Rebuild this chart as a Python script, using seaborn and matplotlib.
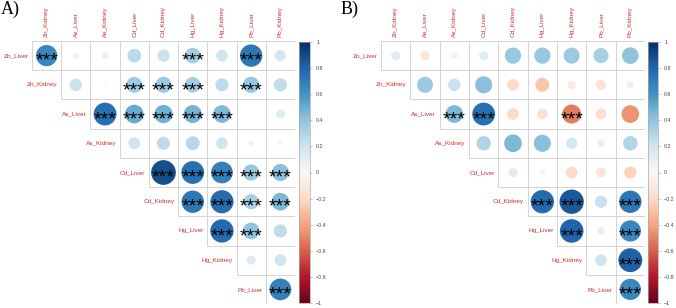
import numpy as np
import pandas as pd
import matplotlib
matplotlib.use("Agg")
import matplotlib.pyplot as plt
import seaborn as sns
from matplotlib.patches import Rectangle

# variable names (rows / columns of the upper triangle, diagonal dropped)
row_names = ["Zn_Liver", "Zn_Kidney", "As_Liver", "As_Kidney", "Cd_Liver",
             "Cd_Kidney", "Hg_Liver", "Hg_Kidney", "Pb_Liver"]
col_names = ["Zn_Kidney", "As_Liver", "As_Kidney", "Cd_Liver", "Cd_Kidney",
             "Hg_Liver", "Hg_Kidney", "Pb_Liver", "Pb_Kidney"]

# panel A: correlations, row by row (upper triangle)
corr_a = [
    [0.65, -0.05, -0.07, 0.27, 0.22, 0.35, 0.20, 0.72, 0.18],
    [0.22, 0.01, 0.36, 0.37, 0.35, 0.25, 0.38, 0.25],
    [0.75, 0.50, 0.48, 0.47, 0.45, 0.00, 0.12],
    [0.20, 0.25, 0.28, 0.20, -0.05, 0.03],
    [0.88, 0.75, 0.68, 0.38, 0.42],
    [0.72, 0.77, 0.33, 0.45],
    [0.78, 0.40, 0.25],
    [0.12, 0.20],
    [0.68],
]
sig_a = [
    [1, 0, 0, 0, 0, 1, 0, 1, 0],
    [0, 0, 1, 1, 1, 0, 1, 0],
    [1, 1, 1, 1, 1, 0, 0],
    [0, 0, 0, 0, 0, 0],
    [1, 1, 1, 1, 1],
    [1, 1, 1, 1],
    [1, 1, 0],
    [0, 0],
    [1],
]

# panel B
corr_b = [
    [0.12, -0.12, -0.06, 0.12, 0.38, 0.38, 0.37, 0.33, 0.40],
    [0.37, 0.22, 0.42, -0.20, -0.28, -0.10, -0.15, -0.07],
    [0.45, 0.75, -0.20, -0.16, -0.52, -0.17, -0.45],
    [0.30, 0.45, 0.42, 0.18, -0.08, 0.30],
    [0.12, -0.04, -0.20, -0.14, -0.22],
    [0.78, 0.85, 0.22, 0.72],
    [0.80, 0.08, 0.65],
    [0.20, 0.82],
    [0.65],
]
sig_b = [
    [0, 0, 0, 0, 0, 0, 0, 0, 0],
    [0, 0, 0, 0, 0, 0, 0, 0],
    [1, 1, 0, 0, 1, 0, 0],
    [0, 0, 0, 0, 0, 0],
    [0, 0, 0, 0, 0],
    [1, 1, 0, 1],
    [1, 0, 1],
    [0, 1],
    [1],
]

cbar_ticks = [-1, -0.8, -0.6, -0.4, -0.2, 0, 0.2, 0.4, 0.6, 0.8, 1]

label_col = "#c8302f"
plt.rcParams["font.family"] = ["Liberation Sans", "DejaVu Sans"]

fig = plt.figure(figsize=(6.76, 3.08), dpi=100)
cmap = plt.get_cmap("RdBu")


def to_long(corr, sig):
    recs = []
    for i, row in enumerate(corr):
        for k, v in enumerate(row):
            j = i + k
            recs.append({"row": i, "col": j, "r": v, "absr": abs(v), "sig": sig[i][k]})
    return pd.DataFrame(recs)


def draw_panel(ax, cax, corr, sig, tag, tag_x):
    df = to_long(corr, sig)
    n = len(row_names)
    # cell grid
    for i in range(n):
        for j in range(i, n):
            ax.add_patch(Rectangle((j - 0.5, i - 0.5), 1, 1, fill=False,
                                   edgecolor="#d4d4d4", lw=0.7, zorder=1))
    sns.scatterplot(data=df, x="col", y="row", hue="r", size="absr",
                    palette="RdBu", hue_norm=(-1, 1),
                    sizes=(0, 360), size_norm=(0, 1),
                    linewidth=0, legend=False, ax=ax, zorder=2)
    for _, s in df[df["sig"] == 1].iterrows():
        ax.text(s["col"], s["row"] + 0.35, "***", ha="center", va="baseline",
                fontsize=14, color="black", zorder=3)
    ax.set_xlim(-0.5, n - 0.5)
    ax.set_ylim(n - 0.5, -0.5)
    ax.axis("off")
    for i, name in enumerate(row_names):
        ax.text(i - 0.62, i, name, ha="right", va="center", fontsize=4.6,
                color=label_col)
    for j, name in enumerate(col_names):
        ax.text(j, -0.62, name, ha="center", va="bottom", rotation=90,
                fontsize=4.6, color=label_col)
    sm = matplotlib.cm.ScalarMappable(norm=matplotlib.colors.Normalize(-1, 1), cmap=cmap)
    cb = fig.colorbar(sm, cax=cax, ticks=cbar_ticks)
    cb.ax.set_yticklabels([f"{t:g}".replace("-", "\u2212") for t in cbar_ticks])
    cb.ax.tick_params(labelsize=3.8, length=1.5, width=0.4, color="#888888",
                      labelcolor="#444444", pad=3)
    cb.outline.set_edgecolor("#aaaaaa")
    cb.outline.set_linewidth(0.5)
    fig.text(tag_x, 0.998, tag, ha="left", va="top", fontsize=13,
             family="Liberation Serif")


W, H = 676, 308
ax_a = fig.add_axes([32 / W, 4 / H, 263 / W, 263 / H])
cax_a = fig.add_axes([299 / W, 5 / H, 11 / W, 261 / H])
ax_b = fig.add_axes([381 / W, 4 / H, 264 / W, 263 / H])
cax_b = fig.add_axes([648 / W, 5 / H, 10 / W, 261 / H])

draw_panel(ax_a, cax_a, corr_a, sig_a, "A)", 1 / W)
draw_panel(ax_b, cax_b, corr_b, sig_b, "B)", 341 / W)

fig.savefig("out.png", dpi=100)
